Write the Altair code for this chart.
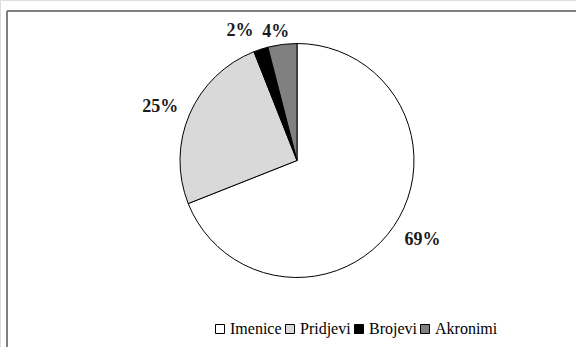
import altair as alt
import pandas as pd

categories = ["Imenice", "Pridjevi", "Brojevi", "Akronimi"]
values = [69, 25, 2, 4]
colors = ["#ffffff", "#d9d9d9", "#000000", "#808080"]

df = pd.DataFrame({"cat": categories, "value": values, "idx": list(range(len(categories)))})

CX, CY, R = 297, 160.5, 117

base = alt.Chart(df)

pie = base.mark_arc(radius=R, stroke="#000000", strokeWidth=1).encode(
    x=alt.value(CX),
    y=alt.value(CY),
    theta=alt.Theta("value:Q", stack=True),
    order=alt.Order("idx:Q"),
    color=alt.Color(
        "cat:N",
        scale=alt.Scale(domain=categories, range=colors),
        sort=categories,
        legend=alt.Legend(
            title=None,
            orient="none",
            direction="horizontal",
            legendX=212,
            legendY=321,
            padding=0,
            symbolType="square",
            symbolSize=81,
            symbolStrokeColor="#000000",
            symbolStrokeWidth=1,
            labelFont="Liberation Serif",
            labelFontSize=16,
            labelColor="#000000",
            labelOffset=2,
            columnPadding=0,
        ),
    ),
)

label_base = (
    base.transform_window(cum="sum(value)", sort=[alt.SortField("idx")], frame=[None, 0])
    .transform_calculate(mid="datum.cum - datum.value / 2", label="datum.value + '%'")
)

nudges = {
    "Imenice": (148, 3, -4),
    "Pridjevi": (148, -1, 5),
    "Brojevi": (136, -15, 0),
    "Akronimi": (130, -5, 0),
}

text_layers = []
for c in categories:
    r, dx, dy = nudges[c]
    t = label_base.transform_filter(alt.datum.cat == c).mark_text(
        radius=r, dx=dx, dy=dy, font="Liberation Serif", fontWeight="bold",
        fontSize=18, color="#1a1a1a", align="center", baseline="middle",
    ).encode(
        x=alt.value(CX),
        y=alt.value(CY),
        theta=alt.Theta("mid:Q", scale=alt.Scale(domain=[0, 100]), stack=None),
        text="label:N",
    )
    text_layers.append(t)

frame_df = pd.DataFrame({"a": [0]})
top_rule = alt.Chart(frame_df).mark_rule(color="#7f7f7f", strokeWidth=2).encode(
    x=alt.value(7), x2=alt.value(576), y=alt.value(11)
)
left_rule = alt.Chart(frame_df).mark_rule(color="#7f7f7f", strokeWidth=2).encode(
    x=alt.value(7), y=alt.value(11), y2=alt.value(347)
)

chart = (
    alt.layer(top_rule, left_rule, pie, *text_layers)
    .resolve_scale(theta="independent")
    .properties(width=576, height=347, autosize=alt.AutoSizeParams(type="none"), padding=0,
                background="#ffffff")
    .configure_view(stroke=None)
    .configure(font="Liberation Serif")
    .configure_legend(labelFont="Liberation Serif", labelFontSize=16)
)

chart.save("out.html", embed_options={"renderer": "svg", "actions": False})
